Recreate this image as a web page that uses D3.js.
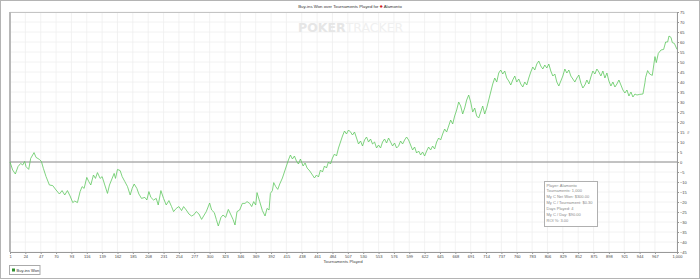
<!DOCTYPE html>
<html>
<head>
<meta charset="utf-8">
<script src="https://cdn.jsdelivr.net/npm/d3@7"></script>
<style>
  body { margin: 0; background: #fff; }
  text { font-family: "Liberation Sans", Arial, sans-serif; }
</style>
</head>
<body>
<script>
var width = 700,
    height = 280;

// tournaments played (x) and cumulative buy-ins won (y)
var tournaments = [1,5,9,13,17,20,23,25,29,32,37,40,45,48,51,55,60,65,70,75,79,83,87,91,95,98,102,106,109,112,116,119,122,126,129,132,136,139,143,147,150,153,157,159,162,166,169,173,177,181,184,187,191,194,198,203,206,209,212,216,220,223,227,231,235,239,243,246,250,254,258,261,265,269,273,276,280,284,288,291,295,300,303,307,310,313,317,320,324,328,332,335,338,341,345,349,353,356,360,363,366,369,371,375,379,383,386,389,391,394,396,399,402,
  405,409,412,415,418,421,424,427,430,433,436,440,443,446,450,453,457,460,463,466,469,472,475,478,481,484,487,490,493,496,499,502,505,508,511,514,517,520,523,526,529,532,535,538,541,544,547,550,553,556,559,562,565,568,571,574,577,580,583,586,589,592,595,598,601,604,607,610,613,616,619,622,625,628,631,634,637,640,643,646,649,652,655,658,661,664,667,670,673,676,679,682,685,688,691,694,697,700,703,706,709,712,715,718,721,724,727,730,733,736,739,742,745,748,751,754,757,760,763,766,769,772,775,778,781,784,787,790,793,796,799,802,805,808,811,814,817,820,823,826,829,832,835,838,841,844,847,850,853,856,859,862,865,868,871,874,877,880,883,886,889,892,895,898,901,904,907,910,913,916,919,922,925,928,931,934,937,940,944,949,952,953,956,959,963,967,969,972,976,980,983,986,988,991,993,996,1000];
var buyinsWon = [0,-4,-6,-2.3,-0.7,-1.5,0.3,-2.3,-3.7,1.8,4.7,2.3,1.3,0.3,-3.2,-7.3,-11.5,-11.8,-14,-16,-14.3,-16.5,-14.3,-17,-20.3,-19.5,-20.3,-14.8,-12.3,-13.2,-7.7,-9.8,-11.5,-6.5,-8.2,-5.3,-8.2,-7.3,-11.5,-15.7,-11.5,-9,-5.7,-8.2,-3.7,-4.3,-7.3,-9.8,-12.3,-16.5,-13.2,-11,-13.2,-16,-18.2,-17.7,-19,-14.8,-17.7,-19,-18.2,-21.5,-14.3,-18.2,-21.5,-19.3,-22.3,-24.8,-23.2,-22.3,-24.3,-22.3,-24,-26,-27,-26.5,-24.8,-26,-28.7,-27,-24.8,-20.5,-24,-25.3,-28.7,-32,-27.7,-26.5,-27.7,-23.7,-26.5,-28.7,-31.5,-24.8,-24,-20.7,-20.7,-19.8,-20.7,-22.3,-19.8,-21.5,-15.3,-19.8,-24.3,-27,-23.2,-24,-15.7,-14.3,-10.3,-12.3,-13.7,
  -11,-8,-5,-2,1,3.5,1.5,3,0.5,-1,1.5,-2,-0.5,-3,-4.5,-6,-8,-6.5,-7.5,-4,-5,-2,-3,0,-1,2,4,3,7,10,13,15.5,14,16,15,13.5,15,12,9,10.5,8,11,12.5,10,11.5,9,10,7,8.5,7,10,11.5,9.5,12,10,8,9.5,7,8,10.5,9,11,12.5,11,8.5,6,7.5,4.5,5.5,3.5,5,3,5.5,7.5,6,8,6.5,10,12,11,14,16.5,15,18,21,19,23,26,30,28,24,27,31,33.5,30,25,27,23,22,25,28,24,27,31,35,39,42,40,44.5,46,44,45.5,42,40.5,38.5,41,43,40,41.5,39,37.5,40,38.5,42,45,47.5,46,49,50.5,48,46.5,48.5,47,49,45.5,43,44,40,38,40.5,43,46.5,44.5,46,43,41.5,40,42,43.5,39.5,37,38.5,41,39,42.5,45.5,44,46.5,45,43,45.5,42,44.5,40.5,38,40,37.5,39,41,38.5,36,34.5,36,33,35,32.5,34,33.5,33.8,34,39.7,42.3,45.7,44,43.3,52.7,49.7,54.3,56,56.3,60,60,63,62.3,59.7,59.3,56.3];

var xTicks = [1,24,47,70,93,116,139,162,185,208,231,254,277,300,323,346,369,392,415,438,461,484,507,530,553,576,599,622,645,668,691,714,737,760,783,806,829,852,875,898,921,944,967,1000];
var yTicks = [-45,-40,-35,-30,-25,-20,-15,-10,-5,0,5,10,15,20,25,30,35,40,45,50,55,60,65,70,75];

var statLines = ['Player: Alamonto', 'Tournaments: 1,000', 'My C Net Won: $300.00',
  'My C / Tournament: $0.30', 'Days Played: 4', 'My C / Day: $90.00', 'ROI %: 3.00'];

var svg = d3.select('body')
    .append('svg')
    .attr('width', width)
    .attr('height', height);

var plotLeft = 10, plotRight = 677, plotTop = 12, plotBottom = 252;

var x = d3.scaleLinear().domain([1, 1000]).range([plotLeft, plotRight]);
var y = d3.scaleLinear().domain([-45, 75]).range([plotBottom, plotTop]);

// outer frame
svg.append('rect')
  .attr('x', 0.5).attr('y', 0.5)
  .attr('width', width - 1).attr('height', height - 2)
  .attr('fill', 'none').attr('stroke', '#b4b4b4');

// title
var title = svg.append('text')
  .attr('x', 350).attr('y', 7.5)
  .attr('text-anchor', 'middle')
  .style('font-size', '4.3px').style('fill', '#333');
title.append('tspan').text('Buy-ins Won over Tournaments Played for ');
title.append('tspan').text('\u2660').style('fill', '#d42020').style('font-size', '5.5px');
title.append('tspan').text(' Alamonto');

// grid
svg.append('g').selectAll('line')
  .data(xTicks)
  .enter().append('line')
  .attr('x1', function(d) { return x(d); })
  .attr('x2', function(d) { return x(d); })
  .attr('y1', plotTop).attr('y2', plotBottom)
  .attr('stroke', '#efefef').attr('stroke-width', 0.8);

svg.append('g').selectAll('line')
  .data(yTicks)
  .enter().append('line')
  .attr('x1', plotLeft).attr('x2', plotRight)
  .attr('y1', function(d) { return y(d); })
  .attr('y2', function(d) { return y(d); })
  .attr('stroke', '#efefef').attr('stroke-width', 0.8);

// watermark
var wm = svg.append('text')
  .attr('x', 298).attr('y', 31.5)
  .style('font-size', '12.5px')
  .style('font-family', '"DejaVu Sans", sans-serif');
wm.append('tspan').text('POKER').style('font-weight', 'bold').style('fill', '#e6e6e6');
wm.append('tspan').text('TRACKER').style('fill', '#f0f0f0');

// plot borders
svg.append('line')
  .attr('x1', plotLeft).attr('x2', plotRight).attr('y1', plotTop + 0.5).attr('y2', plotTop + 0.5)
  .attr('stroke', '#c4c4c4');
svg.append('line')
  .attr('x1', plotLeft).attr('x2', plotLeft).attr('y1', plotTop).attr('y2', plotBottom)
  .attr('stroke', '#b8b8b8').attr('stroke-width', 2);

// zero line
svg.append('line')
  .attr('x1', plotLeft).attr('x2', plotRight)
  .attr('y1', y(0)).attr('y2', y(0))
  .attr('stroke', '#8c8c8c').attr('stroke-width', 1);

// axes
var xAxis = svg.append('g')
  .attr('transform', 'translate(0,' + plotBottom + ')')
  .call(d3.axisBottom(x).tickValues(xTicks).tickFormat(d3.format(',')).tickSize(2).tickPadding(1));

var yAxis = svg.append('g')
  .attr('transform', 'translate(' + plotRight + ',0)')
  .call(d3.axisRight(y).tickValues(yTicks).tickSize(2).tickPadding(1));

[xAxis, yAxis].forEach(function(g) {
  g.select('.domain').attr('stroke', '#999');
  g.selectAll('.tick line').attr('stroke', '#999');
  g.selectAll('.tick text')
    .style('font-size', '4px')
    .style('font-family', '"Liberation Sans", Arial, sans-serif')
    .attr('fill', '#444');
});

svg.append('text')
  .attr('x', 343).attr('y', 263)
  .attr('text-anchor', 'middle')
  .style('font-size', '4.3px').style('fill', '#444')
  .text('Tournaments Played');

svg.append('text')
  .attr('x', 687).attr('y', 134)
  .style('font-size', '4.3px').style('fill', '#444')
  .text('#');

// line
var line = d3.line()
  .x(function(d, i) { return x(tournaments[i]); })
  .y(function(d) { return y(d); });

svg.append('path')
  .datum(buyinsWon)
  .attr('d', line)
  .attr('fill', 'none')
  .attr('stroke', '#5fc85f')
  .attr('stroke-width', 0.8);

// stats box
svg.append('rect')
  .attr('x', 544.5).attr('y', 181.5)
  .attr('width', 53).attr('height', 45)
  .attr('fill', '#fff').attr('stroke', '#b0b0b0');

svg.append('g').selectAll('text')
  .data(statLines)
  .enter().append('text')
  .attr('x', 546.5)
  .attr('y', function(d, i) { return 186.5 + i * 5.85; })
  .style('font-size', '4px').style('fill', '#888')
  .text(function(d) { return d; });

// legend
svg.append('rect')
  .attr('x', 9.5).attr('y', 265.5)
  .attr('width', 30.5).attr('height', 9)
  .attr('fill', '#fff').attr('stroke', '#aaa');
svg.append('rect')
  .attr('x', 12).attr('y', 268.5)
  .attr('width', 3).attr('height', 3)
  .attr('fill', '#2f8f2f');
svg.append('text')
  .attr('x', 16.5).attr('y', 271.6)
  .style('font-size', '4px').style('fill', '#333')
  .text('Buy-ins Won');
</script>
</body>
</html>
